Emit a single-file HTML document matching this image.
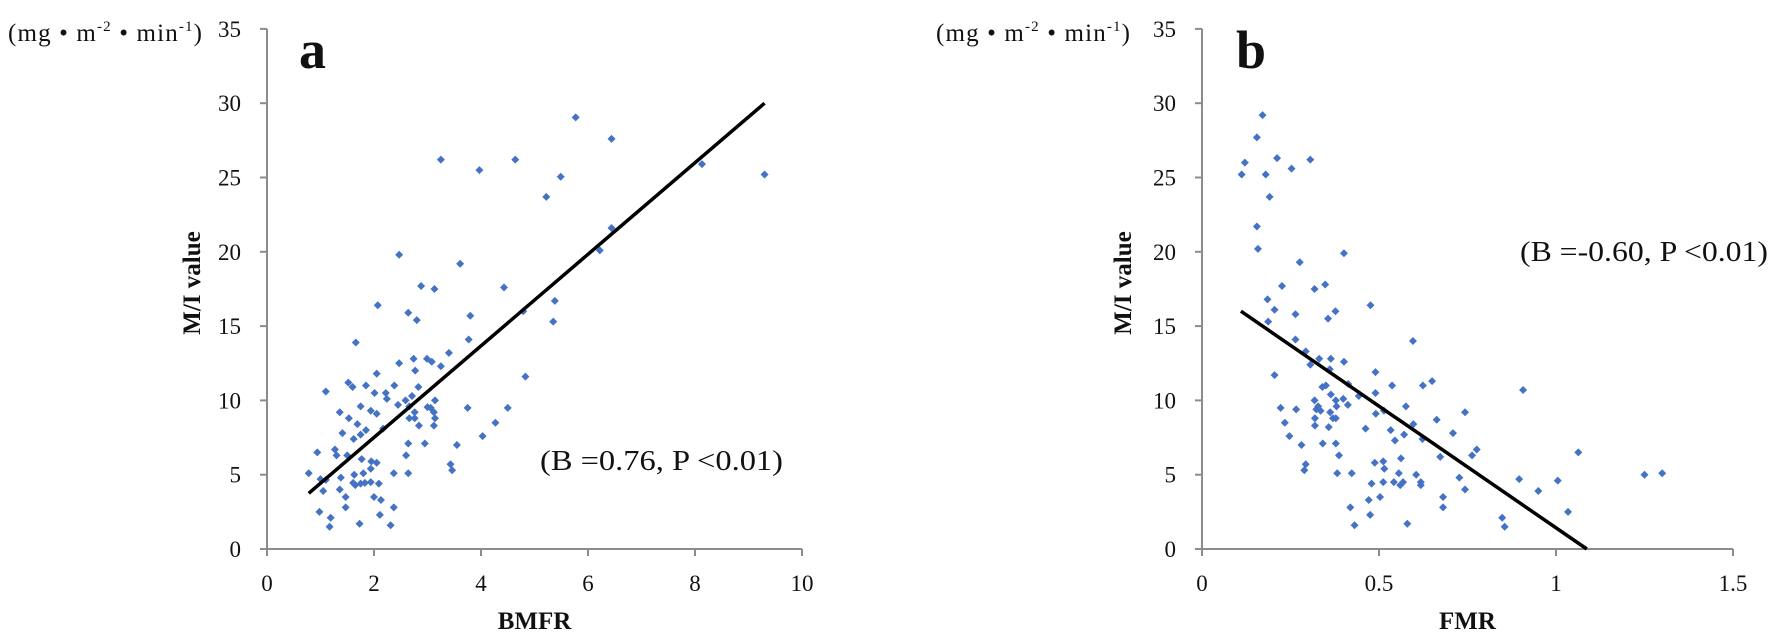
<!DOCTYPE html>
<html><head><meta charset="utf-8"><style>
html,body{margin:0;padding:0;background:#fff;}
svg{display:block;font-family:"Liberation Serif",serif;}
</style></head><body>
<svg id="chart" width="1772" height="635" viewBox="0 0 1772 635" style="position:absolute;left:0;top:0"></svg>
<script>
const aX=[5.77,6.44,3.25,4.64,3.97,5.49,8.13,5.22,6.44,6.22,2.47,3.61,2.88,3.13,4.43,5.38,2.07,2.64,2.80,4.79,5.35,3.80,1.66,3.77,3.40,2.47,2.74,2.99,3.08,3.25,2.77,2.05,4.83,1.52,1.60,1.85,2.38,2.83,1.10,2.01,2.22,2.71,2.24,9.3,
1.75,1.36,1.94,2.05,1.53,1.69,1.85,1.75,1.41,1.62,2.17,2.45,2.59,2.66,2.76,2.66,2.76,2.84,3.0,3.06,3.12,3.14,3.12,3.14,3.75,4.5,4.27,4.03,2.95,2.64,3.55,0.94,1.27,1.30,1.50,2.60,1.77,1.95,2.05,3.43,3.46,1.94,0.78,1.63,1.80,2.37,2.64,1.0,1.10,1.38,1.61,1.65,1.75,1.83,1.94,2.09,1.05,1.36,1.47,2.0,2.13,1.47,2.37,0.98,2.11,1.19,1.17,1.73,2.31];
const aY=[29.05,27.6,26.2,26.2,25.5,25.05,25.9,23.7,21.6,20.1,19.8,19.2,17.7,17.5,17.6,16.7,16.4,15.9,15.4,16.0,15.3,15.7,13.9,14.1,13.2,12.5,12.8,12.8,12.6,12.3,12.0,11.8,11.6,11.2,10.9,11.0,11.0,10.9,10.6,10.5,10.5,10.3,10.1,25.2,
9.6,9.2,9.3,9.1,8.8,8.4,8.0,7.7,7.8,7.4,8.1,9.7,10.0,9.6,9.2,8.8,8.8,8.3,9.55,9.5,9.2,8.8,8.3,10.0,9.5,9.5,8.5,7.6,7.1,7.1,7.0,6.5,6.7,6.3,6.3,6.3,6.05,5.9,5.8,5.7,5.3,5.4,5.1,5.0,5.1,5.1,5.1,4.7,4.65,4.8,4.45,4.3,4.4,4.45,4.5,4.4,3.9,4.0,3.5,3.5,3.3,2.8,2.8,2.5,2.3,2.1,1.5,1.7,1.6];
const bX=[0.171,0.155,0.121,0.112,0.180,0.212,0.253,0.306,0.191,0.155,0.158,0.401,0.276,0.226,0.318,0.348,0.185,0.205,0.264,0.377,0.356,0.187,0.476,0.264,0.596,0.293,0.331,0.364,0.401,0.306,0.361,0.205,0.490,0.537,0.624,0.650,0.340,0.350,0.413,0.907,0.364,0.443,0.490,0.378,0.399,0.318,
0.222,0.266,0.234,0.247,0.281,0.293,0.289,0.323,0.328,0.335,0.319,0.319,0.358,0.341,0.362,0.37,0.378,0.38,0.412,0.378,0.387,0.382,0.423,0.462,0.491,0.514,0.576,0.597,0.533,0.545,0.571,0.623,0.562,0.488,0.512,0.515,0.556,0.605,0.479,0.512,0.542,0.56,0.568,0.618,0.618,0.503,0.471,0.681,0.419,0.681,0.475,0.431,0.58,0.663,0.709,0.743,0.776,0.763,0.673,0.727,0.743,0.848,0.855,0.896,0.95,1.005,1.034,1.063,1.25,1.3];
const bY=[29.2,27.7,26.0,25.2,25.2,26.3,25.6,26.2,23.7,21.7,20.2,19.9,19.3,17.7,17.5,17.8,16.8,16.1,15.8,16.0,15.5,15.3,16.4,14.1,14.0,13.3,12.8,12.8,12.6,12.4,12.1,11.7,11.9,11.0,11.0,11.3,10.9,11.0,11.1,10.7,10.4,10.3,10.5,10.0,10.1,10.0,
9.5,9.4,8.5,7.6,7.0,5.7,5.3,9.4,9.6,9.3,8.8,8.3,8.2,7.1,9.2,8.8,8.8,9.6,9.7,7.1,6.3,5.1,5.1,8.1,9.1,9.3,9.6,8.4,8.0,7.3,7.7,7.4,6.1,5.8,5.9,5.4,5.1,5.0,4.4,4.5,4.5,4.3,4.5,4.5,4.3,3.5,3.3,3.5,2.8,2.8,2.3,1.6,1.7,8.7,7.8,9.2,6.7,6.3,6.2,4.8,4.0,2.1,1.5,4.7,3.9,4.6,2.5,6.5,5.0,5.1];
const aXTicks=[0,2,4,6,8,10];
const bXTicks=[0,0.5,1,1.5];
const yTicks=[0,5,10,15,20,25,30,35];
const aLine=[[0.78,3.75],[9.3,30]];
const bLine=[[0.11,16],[1.087,0]];

const NS="http://www.w3.org/2000/svg";
const svg=document.getElementById('chart');
function mk(tag,attrs,parent){const e=document.createElementNS(NS,tag);for(const k in attrs)e.setAttribute(k,attrs[k]);(parent||svg).appendChild(e);return e;}
const Y0=549,YU=14.86;
function yS(v){return Y0-v*YU;}

function panel(id,x0,xu,xmax,xTicks,xs,ys,line,xLabel){
  const g=mk('g',{});
  
  
  const xS=v=>x0+v*xu;
  const ax=mk('line',{x1:x0,y1:yS(35),x2:x0,y2:Y0,stroke:'#8c8c8c','stroke-width':2},g);
  
  
  const bx=mk('line',{x1:x0,y1:Y0,x2:xS(xmax),y2:Y0,stroke:'#8c8c8c','stroke-width':2},g);
  
  
  yTicks.forEach(t=>{
    mk('line',{x1:x0-7,y1:yS(t),x2:x0,y2:yS(t),stroke:'#8c8c8c','stroke-width':2},g);
    const tx=mk('text',{x:x0-26,y:yS(t)+8,'text-anchor':'end','font-size':23,fill:'#111'},g);
    tx.textContent=t;
    
    
  });
  xTicks.forEach(t=>{
    mk('line',{x1:xS(t),y1:Y0,x2:xS(t),y2:Y0+7,stroke:'#8c8c8c','stroke-width':2},g);
    const tx=mk('text',{x:xS(t),y:Y0+42,'text-anchor':'middle','font-size':23,fill:'#111'},g);
    tx.textContent=t;
    
    
  });
  for(let i=0;i<xs.length;i++){
    const cx=xS(xs[i]),cy=yS(ys[i]);
    const p=mk('polygon',{points:`${cx},${cy-4} ${cx+4},${cy} ${cx},${cy+4} ${cx-4},${cy}`,fill:'#4472C4'},g);
    
    
  }
  const l=mk('line',{x1:xS(line[0][0]),y1:yS(line[0][1]),x2:xS(line[1][0]),y2:yS(line[1][1]),stroke:'#000','stroke-width':3.5},g);
  
  
  const xl=mk('text',{x:(x0+xS(xmax))/2,y:629,'text-anchor':'middle','font-size':25,'font-weight':'bold',fill:'#111'},g);
  xl.textContent=xLabel;
  
  
}
panel('a',267,53.5,10,aXTicks,aX,aY,aLine,'BMFR');
panel('b',1202,354,1.5,bXTicks,bX,bY,bLine,'FMR');
</script>
<svg style="position:absolute;left:0;top:0" width="1772" height="635">
<g font-family="Liberation Serif, serif" fill="#111">
<text x="8" y="41" font-size="25" textLength="194" lengthAdjust="spacing">(mg • m<tspan font-size="15" dy="-10">-2</tspan><tspan dy="10"> • </tspan>min<tspan font-size="15" dy="-10">-1</tspan><tspan dy="10">)</tspan></text>
<text x="936" y="41" font-size="25" textLength="194" lengthAdjust="spacing">(mg • m<tspan font-size="15" dy="-10">-2</tspan><tspan dy="10"> • </tspan>min<tspan font-size="15" dy="-10">-1</tspan><tspan dy="10">)</tspan></text>
<text x="299" y="68" font-size="54" font-weight="bold">a</text>
<text x="1236" y="68" font-size="54" font-weight="bold">b</text>
<text transform="translate(200,283) rotate(-90)" text-anchor="middle" font-size="25" font-weight="bold">M/I value</text>
<text transform="translate(1131,283) rotate(-90)" text-anchor="middle" font-size="25" font-weight="bold">M/I value</text>
<text x="540" y="470" font-size="29" textLength="243" lengthAdjust="spacingAndGlyphs">(B =0.76, P &lt;0.01)</text>
<text x="1520" y="261" font-size="29" textLength="248" lengthAdjust="spacingAndGlyphs">(B =-0.60, P &lt;0.01)</text>
</g></svg>
</body></html>
